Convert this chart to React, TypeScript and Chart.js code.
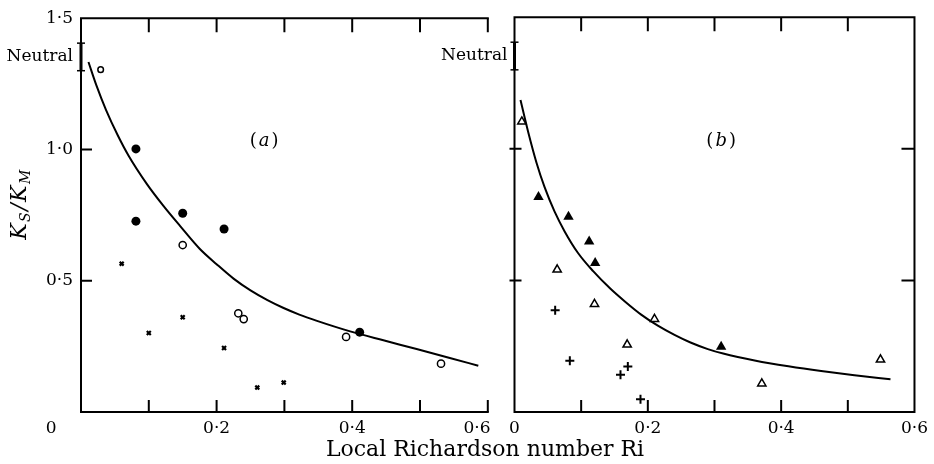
import React, { useEffect, useRef } from "react";
import { Chart, registerables } from "chart.js";
Chart.register(...registerables);

const SERIF = "'DejaVu Serif', 'Liberation Serif', serif";

// ---- axis tick values / labels ----
const xTickValues = [0, 0.2, 0.4, 0.6];
const xTickLabelsA = ["0           ", "0·2", "0·4", "0·6    "];
const xTickLabelsB = ["0", "0·2", "0·4", "0·6"];
const yTickValuesA = [0.5, 1.0, 1.355, 1.5];
const yTickLabelsA = ["0·5", "1·0", "Neutral", "1·5"];
const yTickValuesB = [1.355];
const yTickLabelsB = ["Neutral"];
const xMinorTicksA = [0.1, 0.2, 0.3, 0.4, 0.5, 0.6];
const xMinorTicksB = [0.1, 0.2, 0.3, 0.4, 0.5];
const yMajorTicks = [0.5, 1.0];
const neutralRange = [1.3, 1.405];

// ---- panel (a) ----
const curveA_Ri = [0.011, 0.023, 0.037, 0.054, 0.07, 0.097, 0.121, 0.146, 0.175, 0.2, 0.225, 0.25, 0.275, 0.298, 0.322, 0.347, 0.397, 0.446, 0.495, 0.544, 0.586];
const curveA_K = [1.333, 1.242, 1.15, 1.055, 0.977, 0.869, 0.787, 0.709, 0.622, 0.563, 0.508, 0.463, 0.426, 0.397, 0.371, 0.348, 0.307, 0.273, 0.24, 0.206, 0.176];
const openCircleRi = [0.029, 0.15, 0.232, 0.24, 0.391, 0.531];
const openCircleK = [1.304, 0.636, 0.376, 0.354, 0.286, 0.184];
const filledCircleRi = [0.081, 0.15, 0.081, 0.211, 0.411];
const filledCircleK = [1.002, 0.757, 0.727, 0.697, 0.304];
const crossRi = [0.06, 0.15, 0.1, 0.211, 0.26, 0.299];
const crossK = [0.565, 0.361, 0.301, 0.244, 0.093, 0.112];

// ---- panel (b) ----
const curveB_Ri = [0.009, 0.021, 0.033, 0.045, 0.06, 0.075, 0.095, 0.118, 0.144, 0.166, 0.19, 0.215, 0.24, 0.264, 0.29, 0.313, 0.362, 0.411, 0.46, 0.51, 0.564];
const curveB_K = [1.185, 1.059, 0.947, 0.855, 0.762, 0.687, 0.605, 0.535, 0.468, 0.419, 0.37, 0.328, 0.293, 0.264, 0.239, 0.222, 0.195, 0.174, 0.156, 0.14, 0.124];
const openTriRi = [0.011, 0.064, 0.12, 0.21, 0.169, 0.371, 0.549];
const openTriK = [1.103, 0.541, 0.41, 0.353, 0.256, 0.108, 0.199];
const filledTriRi = [0.036, 0.081, 0.112, 0.121, 0.31];
const filledTriK = [0.817, 0.742, 0.648, 0.566, 0.248];
const plusRi = [0.061, 0.083, 0.17, 0.159, 0.189];
const plusK = [0.387, 0.195, 0.173, 0.142, 0.048];

const pts = (xs: number[], ys: number[]) => xs.map((x, i) => ({ x, y: ys[i] }));

const neutralDataset = () => ({
  data: neutralRange.map((y) => ({ x: 0, y })),
  showLine: true,
  borderColor: "#000",
  borderWidth: 3,
  pointStyle: "line",
  pointRadius: 4,
  pointBorderWidth: 1.5,
  pointBorderColor: "#000",
  clip: false,
});

const curveDataset = (xs: number[], ys: number[]) => ({
  data: pts(xs, ys),
  showLine: true,
  borderColor: "#000",
  borderWidth: 2,
  pointRadius: 0,
  cubicInterpolationMode: "monotone",
});

const markerDataset = (xs: number[], ys: number[], style: string, radius: any, fill: string, bw: number) => ({
  data: pts(xs, ys),
  showLine: false,
  pointStyle: style,
  pointRadius: radius,
  pointBackgroundColor: fill,
  pointBorderColor: "#000",
  pointBorderWidth: bw,
});

type FrameOpts = { topBottom: number[]; rightBorder: boolean; leftCross: boolean };

const framePlugin = (o: FrameOpts) => ({
  id: "frame",
  beforeDatasetsDraw(chart: any) {
    const { ctx, chartArea: a, scales } = chart;
    const x = scales.x, y = scales.y;
    ctx.save();
    ctx.strokeStyle = "#000";
    ctx.lineWidth = 2;
    ctx.lineCap = "square";
    ctx.beginPath();
    ctx.moveTo(a.left, a.top);
    ctx.lineTo(a.left, a.bottom);
    ctx.moveTo(a.left, a.top);
    ctx.lineTo(a.right, a.top);
    ctx.moveTo(a.left, a.bottom);
    ctx.lineTo(a.right, a.bottom);
    if (o.rightBorder) {
      ctx.moveTo(a.right, a.top);
      ctx.lineTo(a.right, a.bottom);
    }
    ctx.stroke();
    ctx.lineCap = "butt";
    ctx.beginPath();
    o.topBottom.forEach((v) => {
      const px = x.getPixelForValue(v);
      ctx.moveTo(px, a.top);
      ctx.lineTo(px, a.top + 14);
      ctx.moveTo(px, a.bottom);
      ctx.lineTo(px, a.bottom - 12);
    });
    yMajorTicks.forEach((v) => {
      const py = y.getPixelForValue(v);
      if (o.leftCross) {
        ctx.moveTo(a.left - 5, py);
        ctx.lineTo(a.left + 7, py);
      } else {
        ctx.moveTo(a.left, py);
        ctx.lineTo(a.left + 11, py);
      }
      if (o.rightBorder) {
        ctx.moveTo(a.right, py);
        ctx.lineTo(a.right - 13, py);
      }
    });
    ctx.stroke();
    ctx.restore();
  },
});

const drawPanelLabel = (ctx: any, letter: string, cx: number, cy: number) => {
  ctx.save();
  ctx.fillStyle = "#000";
  ctx.textBaseline = "middle";
  const up = `18px ${SERIF}`;
  const it = `italic 18px ${SERIF}`;
  ctx.font = up;
  const wp = ctx.measureText("(").width;
  const wq = ctx.measureText(")").width;
  ctx.font = it;
  const wl = ctx.measureText(letter).width;
  let x0 = cx - (wp + wl + wq + 4) / 2;
  ctx.textAlign = "left";
  ctx.font = up;
  ctx.fillText("(", x0, cy);
  x0 += wp + 2;
  ctx.font = it;
  ctx.fillText(letter, x0, cy);
  x0 += wl + 2;
  ctx.font = up;
  ctx.fillText(")", x0, cy);
  ctx.restore();
};

const textPluginA = {
  id: "textsA",
  afterDraw(chart: any) {
    const { ctx, scales } = chart;
    drawPanelLabel(ctx, "a", scales.x.getPixelForValue(0.27), scales.y.getPixelForValue(1.03));
    // x-axis title
    ctx.save();
    ctx.fillStyle = "#000";
    ctx.font = `22px ${SERIF}`;
    ctx.textAlign = "center";
    ctx.textBaseline = "middle";
    ctx.fillText("Local Richardson number Ri", 485, 450);
    ctx.restore();
    // y-axis title K_S/K_M
    ctx.save();
    ctx.translate(26, 204);
    ctx.rotate(-Math.PI / 2);
    ctx.fillStyle = "#000";
    ctx.textBaseline = "alphabetic";
    ctx.textAlign = "left";
    const big = `italic 22px ${SERIF}`;
    const small = `italic 14px ${SERIF}`;
    const segs = [
      { t: "K", f: big, dy: 0 },
      { t: "S", f: small, dy: 4 },
      { t: "/", f: big, dy: 0 },
      { t: "K", f: big, dy: 0 },
      { t: "M", f: small, dy: 4 },
    ];
    let total = 0;
    segs.forEach((s) => { ctx.font = s.f; total += ctx.measureText(s.t).width + 1.5; });
    let xx = -total / 2;
    segs.forEach((s) => {
      ctx.font = s.f;
      ctx.fillText(s.t, xx, s.dy);
      xx += ctx.measureText(s.t).width + 1.5;
    });
    ctx.restore();
  },
};

const textPluginB = {
  id: "textsB",
  afterDraw(chart: any) {
    const { ctx, scales } = chart;
    drawPanelLabel(ctx, "b", scales.x.getPixelForValue(0.31), scales.y.getPixelForValue(1.03));
  },
};

function buildOptions(p: { yWidth: number; padRight: number; xLabels: string[]; yVals: number[]; yLabels: string[]; yPad: number }) {
  return {
    responsive: false,
    animation: false,
    devicePixelRatio: 1,
    layout: { padding: { left: 0, top: 14, right: p.padRight, bottom: 0 } },
    plugins: { legend: { display: false }, tooltip: { enabled: false } },
    scales: {
      x: {
        type: "linear",
        min: 0,
        max: 0.6,
        grid: { display: false, drawTicks: false },
        border: { display: false },
        afterBuildTicks: (s: any) => { s.ticks = xTickValues.map((v) => ({ value: v })); },
        afterFit: (s: any) => { s.height = 52; },
        ticks: {
          autoSkip: false,
          maxRotation: 0,
          minRotation: 0,
          padding: 6,
          color: "#000",
          font: { family: SERIF, size: 17 },
          callback: (_v: any, i: number) => p.xLabels[i],
        },
      },
      y: {
        type: "linear",
        min: 0,
        max: 1.5,
        grid: { display: false, drawTicks: false },
        border: { display: false },
        afterBuildTicks: (s: any) => { s.ticks = p.yVals.map((v) => ({ value: v })); },
        afterFit: (s: any) => { s.width = p.yWidth; },
        ticks: {
          autoSkip: false,
          padding: p.yPad,
          color: "#000",
          font: { family: SERIF, size: 17 },
          callback: (_v: any, i: number) => p.yLabels[i],
        },
      },
    },
  };
}

export default function App() {
  const refA = useRef<HTMLCanvasElement>(null);
  const refB = useRef<HTMLCanvasElement>(null);

  useEffect(() => {
    const chartA = new Chart(refA.current as HTMLCanvasElement, {
      type: "line",
      data: {
        datasets: [
          markerDataset(openCircleRi, openCircleK, "circle", [2.8, 3.6, 3.6, 3.6, 3.6, 3.6], "#fff", 1.5),
          markerDataset(filledCircleRi, filledCircleK, "circle", 4.5, "#000", 0),
          markerDataset(crossRi, crossK, "crossRot", 2.8, "#000", 2.2),
          neutralDataset(),
          curveDataset(curveA_Ri, curveA_K),
        ] as any,
      },
      options: buildOptions({ yWidth: 81, padRight: 446.2, xLabels: xTickLabelsA, yVals: yTickValuesA, yLabels: yTickLabelsA, yPad: 8 }) as any,
      plugins: [framePlugin({ topBottom: xMinorTicksA, rightBorder: false, leftCross: false }), textPluginA],
    });
    const chartB = new Chart(refB.current as HTMLCanvasElement, {
      type: "line",
      data: {
        datasets: [
          markerDataset(openTriRi, openTriK, "triangle", 4.8, "#fff", 1.5),
          markerDataset(filledTriRi, filledTriK, "triangle", 6, "#000", 0),
          markerDataset(plusRi, plusK, "cross", 4.5, "#000", 2),
          neutralDataset(),
          curveDataset(curveB_Ri, curveB_K),
        ] as any,
      },
      options: buildOptions({ yWidth: 514.5, padRight: 12.5, xLabels: xTickLabelsB, yVals: yTickValuesB, yLabels: yTickLabelsB, yPad: 7 }) as any,
      plugins: [framePlugin({ topBottom: xMinorTicksB, rightBorder: true, leftCross: true }), textPluginB],
    });
    return () => {
      chartA.destroy();
      chartB.destroy();
    };
  }, []);

  const cs: React.CSSProperties = { position: "absolute", left: 0, top: 0, width: 934, height: 464 };
  return (
    <div style={{ position: "fixed", left: 0, top: 0, width: 934, height: 464, background: "#fff" }}>
      <canvas ref={refA} width={934} height={464} style={cs} />
      <canvas ref={refB} width={934} height={464} style={cs} />
    </div>
  );
}
